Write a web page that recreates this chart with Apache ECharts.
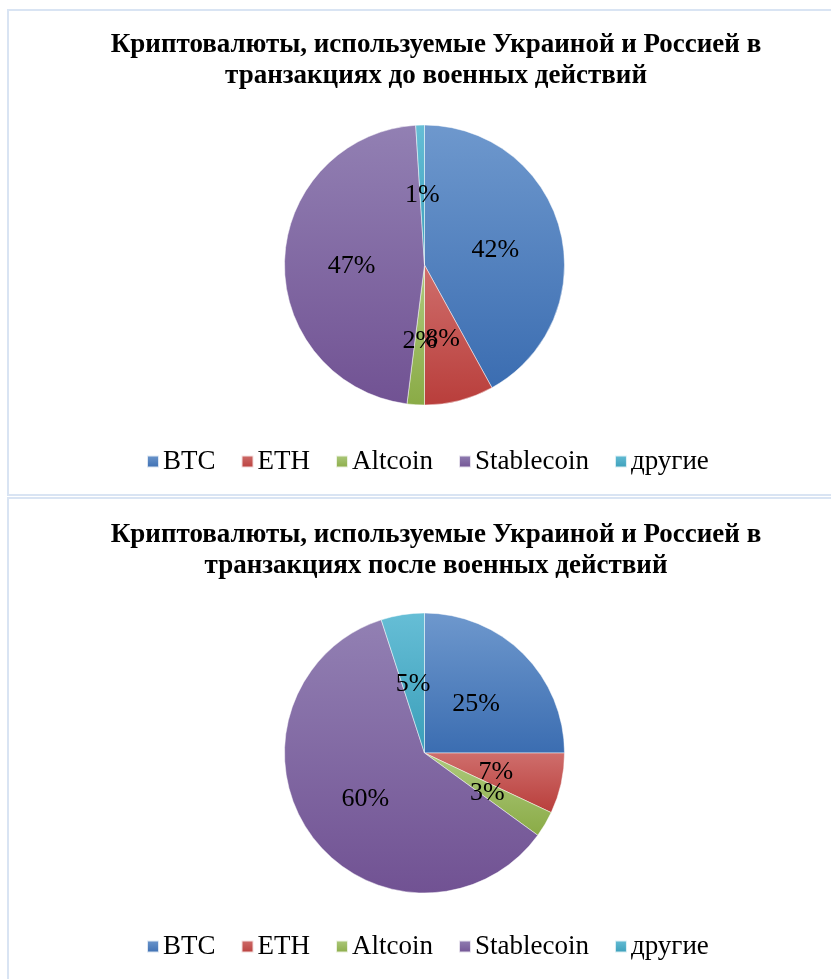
<!DOCTYPE html>
<html>
<head>
<meta charset="utf-8">
<script src="https://cdn.jsdelivr.net/npm/echarts@6/dist/echarts.min.js"></script>
<style>
html,body{margin:0;padding:0;background:#fff;}
#c{width:831px;height:979px;}
</style>
</head>
<body>
<div id="c"></div>
<script>
const categories = ['BTC', 'ETH', 'Altcoin', 'Stablecoin', 'другие'];
const valuesBefore = [42, 8, 2, 47, 1];
const valuesAfter = [25, 7, 3, 60, 5];
const titleBefore = 'Криптовалюты, используемые Украиной и Россией в\nтранзакциях до военных действий';
const titleAfter = 'Криптовалюты, используемые Украиной и Россией в\nтранзакциях после военных действий';

const lightColors = ['#6e98cd', '#cf6e6c', '#aeca7e', '#9280b3', '#66bed6'];
const darkColors  = ['#3b6db1', '#b93e3b', '#8aab46', '#715293', '#3a9eb9'];

function grad(i) {
  return new echarts.graphic.LinearGradient(0, 0, 0, 1, [
    {offset: 0, color: lightColors[i]},
    {offset: 1, color: darkColors[i]}
  ]);
}
function pieData(vals) {
  return categories.map((n, i) => ({name: n, value: vals[i], itemStyle: {color: grad(i)}}));
}
const serif = '"Liberation Serif", "Times New Roman", serif';

const chart = echarts.init(document.getElementById('c'), null, {renderer: 'canvas'});
function legend(top) {
  return {
    top: top, left: 141, itemWidth: 12, itemHeight: 12, itemGap: 25,
    icon: 'rect', selectedMode: false,
    textStyle: {fontFamily: serif, fontSize: 27, color: '#000', padding: [0, 0, 0, -1]},
    data: categories
  };
}
function pieSeries(vals, cy) {
  return {
    type: 'pie', center: [424.5, cy], radius: [0, 140], startAngle: 90, clockwise: true,
    silent: true, animation: false, avoidLabelOverlap: false,
    itemStyle: {borderColor: 'rgba(255,255,255,0.8)', borderWidth: 0.6},
    label: {show: true, position: 'inside', formatter: '{c}%', color: '#000',
            fontFamily: serif, fontSize: 26, offset: [0, 3]},
    labelLine: {show: false},
    labelLayout: {hideOverlap: false},
    data: pieData(vals)
  };
}
const titleStyle = {fontFamily: serif, fontWeight: 'bold', fontSize: 27, lineHeight: 31, color: '#000'};
chart.setOption({
  backgroundColor: '#fff',
  animation: false,
  title: [
    {text: titleBefore, left: 431, textAlign: 'center', top: 25, textStyle: titleStyle},
    {text: titleAfter, left: 431, textAlign: 'center', top: 515, textStyle: titleStyle}
  ],
  legend: [legend(443), legend(928)],
  graphic: [
    {type: 'rect', shape: {x: 8, y: 10, width: 830, height: 485},
     style: {fill: 'none', stroke: '#d9e4f3', lineWidth: 2}, silent: true},
    {type: 'rect', shape: {x: 8, y: 498, width: 830, height: 500},
     style: {fill: 'none', stroke: '#d9e4f3', lineWidth: 2}, silent: true}
  ],
  series: [pieSeries(valuesBefore, 265), pieSeries(valuesAfter, 753)]
});
</script>
</body>
</html>
